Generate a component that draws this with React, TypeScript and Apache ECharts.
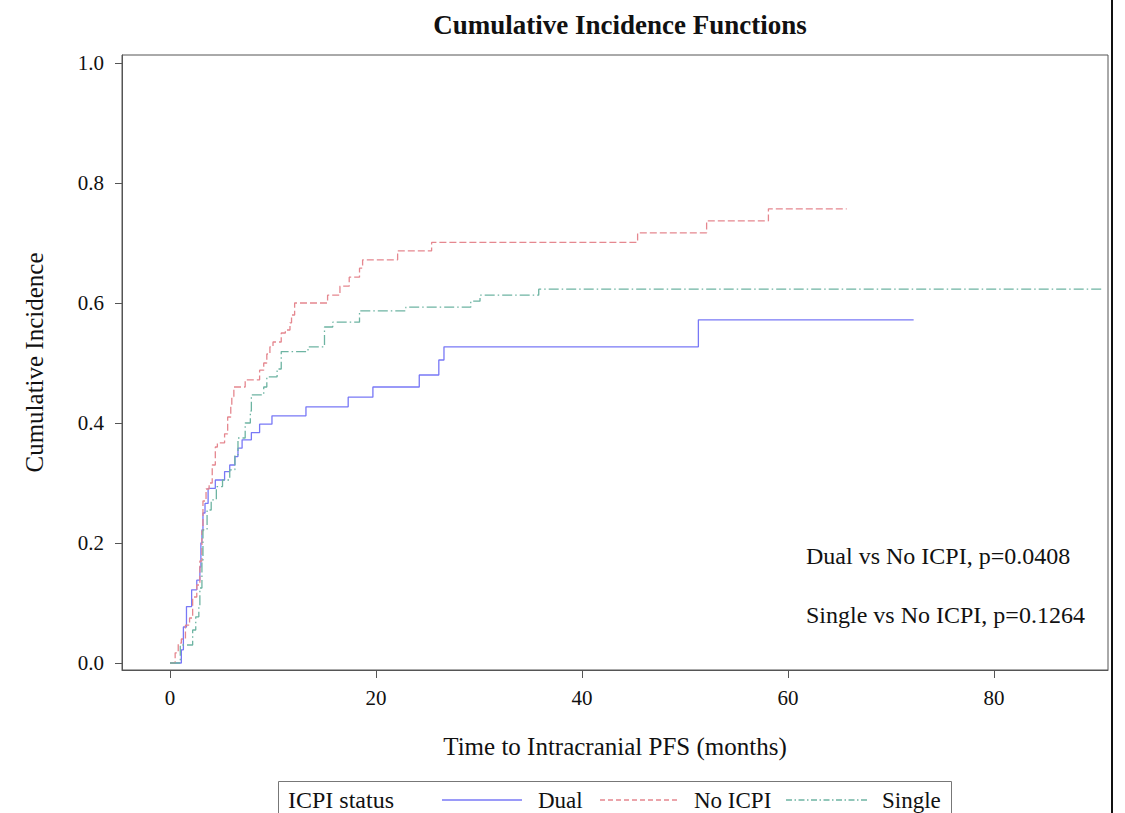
import React, { useEffect, useRef } from "react";
import * as echarts from "echarts";

// ---- Data (months, cumulative incidence) ----
const dualTimes = [0, 1.1, 1.3, 1.6, 2.1, 2.6, 2.9, 3.0, 3.1, 3.2, 3.4, 3.7, 4.4, 5.3, 5.8, 6.3, 6.6, 7.0, 7.9, 8.7, 9.9, 13.2, 17.3, 19.7, 24.2, 26.1, 26.6, 51.3, 72.2];
const dualValues = [0, 0.022, 0.06, 0.094, 0.122, 0.138, 0.16, 0.2, 0.222, 0.25, 0.266, 0.291, 0.305, 0.319, 0.33, 0.344, 0.358, 0.372, 0.384, 0.398, 0.412, 0.427, 0.443, 0.46, 0.48, 0.505, 0.527, 0.572, 0.572];

const noIcpiTimes = [0, 0.5, 0.8, 1.1, 1.5, 1.9, 2.2, 2.6, 2.9, 3.1, 3.2, 3.5, 3.8, 4.1, 4.4, 4.6, 5.3, 5.6, 5.9, 6.0, 6.2, 7.3, 8.7, 9.1, 9.4, 9.7, 10.0, 10.8, 11.2, 11.65, 11.8, 12.1, 15.3, 16.5, 17.4, 18.4, 18.7, 22.1, 25.4, 45.4, 52.1, 58.1, 65.7];
const noIcpiValues = [0, 0.017, 0.033, 0.04, 0.063, 0.075, 0.11, 0.13, 0.17, 0.22, 0.27, 0.29, 0.3, 0.33, 0.36, 0.367, 0.382, 0.41, 0.43, 0.444, 0.46, 0.472, 0.488, 0.5, 0.515, 0.527, 0.535, 0.55, 0.555, 0.567, 0.58, 0.6, 0.613, 0.628, 0.643, 0.658, 0.672, 0.687, 0.701, 0.717, 0.737, 0.757, 0.757];

const singleTimes = [0, 1.0, 2.2, 2.5, 2.8, 2.9, 3.1, 3.2, 3.6, 4.0, 4.5, 5.1, 5.8, 6.3, 6.6, 7.3, 7.8, 7.9, 9.1, 9.4, 10.4, 10.8, 13.4, 15.0, 15.8, 18.4, 22.9, 29.2, 30.1, 35.8, 90.5];
const singleValues = [0, 0.03, 0.055, 0.077, 0.094, 0.125, 0.167, 0.222, 0.255, 0.272, 0.294, 0.305, 0.322, 0.347, 0.375, 0.4, 0.42, 0.447, 0.46, 0.477, 0.49, 0.519, 0.527, 0.56, 0.568, 0.587, 0.593, 0.603, 0.613, 0.623, 0.623];

const xTicks = [0, 20, 40, 60, 80];
const yTicks = [0, 0.2, 0.4, 0.6, 0.8, 1.0];
const seriesNames = ["Dual", "No ICPI", "Single"];
const annotations = ["Dual vs No ICPI, p=0.0408", "Single vs No ICPI, p=0.1264"];

const FONT = '"Liberation Serif", "Times New Roman", serif';
const BLUE = "#7878f6";
const RED = "#e5878f";
const TEAL = "#6db4a2";

function pairs(t: number[], v: number[]) {
  return t.map((x, i) => [x, v[i]]);
}

export default function App() {
  const ref = useRef<HTMLDivElement>(null);
  useEffect(() => {
    document.body.style.margin = "0";
    const chart = echarts.init(ref.current!, null, { renderer: "svg" });
    const axisColor = "#555";
    const option: any = {
      animation: false,
      backgroundColor: "#fff",
      title: {
        text: "Cumulative Incidence Functions",
        left: 615,
        textAlign: "center",
        top: 6,
        textStyle: { fontFamily: FONT, fontSize: 27, fontWeight: "bold", color: "#111" },
      },
      grid: {
        left: 122,
        right: 17,
        top: 55,
        bottom: 143,
        show: true,
        borderColor: axisColor,
        borderWidth: 1,
      },
      xAxis: {
        type: "value",
        min: -4.66,
        max: 91.07,
        name: "Time to Intracranial PFS (months)",
        nameLocation: "middle",
        nameGap: 64,
        nameTextStyle: { fontFamily: FONT, fontSize: 25, color: "#111" },
        axisLine: { show: true, onZero: false, lineStyle: { color: axisColor } },
        axisTick: { show: true, length: 8, customValues: xTicks, lineStyle: { color: axisColor } },
        axisLabel: { customValues: xTicks, fontFamily: FONT, fontSize: 21, color: "#111", margin: 17 },
        splitLine: { show: false },
      },
      yAxis: {
        type: "value",
        min: -0.01167,
        max: 1.01333,
        name: "Cumulative Incidence",
        nameLocation: "middle",
        nameGap: 75,
        nameRotate: 90,
        nameTextStyle: { fontFamily: FONT, fontSize: 25, color: "#111" },
        axisLine: { show: true, onZero: false, lineStyle: { color: axisColor } },
        axisTick: { show: true, length: 7, customValues: yTicks, lineStyle: { color: axisColor } },
        axisLabel: {
          customValues: yTicks,
          fontFamily: FONT,
          fontSize: 21,
          color: "#111",
          margin: 18,
          formatter: (v: number) => v.toFixed(1),
        },
        splitLine: { show: false },
      },
      series: [
        {
          name: seriesNames[0],
          type: "line",
          step: "end",
          showSymbol: false,
          data: pairs(dualTimes, dualValues),
          lineStyle: { color: BLUE, width: 1.3, type: "solid" },
        },
        {
          name: seriesNames[1],
          type: "line",
          step: "end",
          showSymbol: false,
          data: pairs(noIcpiTimes, noIcpiValues),
          lineStyle: { color: RED, width: 1.3, type: [7, 3] },
        },
        {
          name: seriesNames[2],
          type: "line",
          step: "end",
          showSymbol: false,
          data: pairs(singleTimes, singleValues),
          lineStyle: { color: TEAL, width: 1.3, type: [10, 3, 1.5, 3] },
        },
      ],
      graphic: [
        {
          type: "text",
          left: 806,
          top: 544,
          style: { text: annotations[0], font: `24px ${FONT}`, fill: "#111" },
        },
        {
          type: "text",
          left: 806,
          top: 603,
          style: { text: annotations[1], font: `24px ${FONT}`, fill: "#111" },
        },
        {
          type: "line",
          shape: { x1: 1112, y1: 0, x2: 1112, y2: 813 },
          style: { stroke: "#111", lineWidth: 2 },
        },
        {
          type: "rect",
          shape: { x: 278.5, y: 781.5, width: 673, height: 50 },
          style: { fill: "none", stroke: "#777", lineWidth: 1 },
        },
        {
          type: "text",
          x: 288,
          y: 800,
          style: { text: "ICPI status", font: `24px ${FONT}`, fill: "#111", verticalAlign: "middle" },
        },
        {
          type: "line",
          shape: { x1: 442, y1: 800, x2: 522, y2: 800 },
          style: { stroke: BLUE, lineWidth: 1.3 },
        },
        {
          type: "text",
          x: 538,
          y: 800,
          style: { text: seriesNames[0], font: `23px ${FONT}`, fill: "#111", verticalAlign: "middle" },
        },
        {
          type: "line",
          shape: { x1: 600, y1: 800, x2: 680, y2: 800 },
          style: { stroke: RED, lineWidth: 1.3, lineDash: [5, 3] },
        },
        {
          type: "text",
          x: 694,
          y: 800,
          style: { text: seriesNames[1], font: `23px ${FONT}`, fill: "#111", verticalAlign: "middle" },
        },
        {
          type: "line",
          shape: { x1: 786, y1: 800, x2: 868, y2: 800 },
          style: { stroke: TEAL, lineWidth: 1.3, lineDash: [6, 2.5, 1.5, 2.5] },
        },
        {
          type: "text",
          x: 882,
          y: 800,
          style: { text: seriesNames[2], font: `23px ${FONT}`, fill: "#111", verticalAlign: "middle" },
        },
      ],
    };
    chart.setOption(option);
    return () => chart.dispose();
  }, []);
  return (
    <div
      ref={ref}
      style={{ position: "fixed", left: 0, top: 0, width: 1125, height: 813 }}
    />
  );
}
